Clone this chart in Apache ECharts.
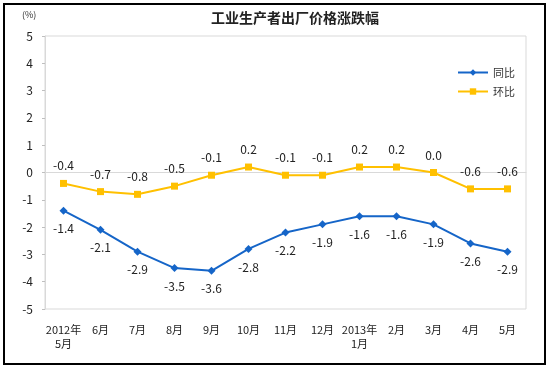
<!DOCTYPE html>
<html><head><meta charset="utf-8">
<script src="https://cdn.jsdelivr.net/npm/echarts@6/dist/echarts.min.js"></script>
<style>html,body{margin:0;padding:0;background:#fff}#c{width:550px;height:369px}</style>
</head><body><div id="c"></div>
<script>
const categories = ["2012年\n5月","6月","7月","8月","9月","10月","11月","12月","2013年\n1月","2月","3月","4月","5月"];
const yoy = [-1.4,-2.1,-2.9,-3.5,-3.6,-2.8,-2.2,-1.9,-1.6,-1.6,-1.9,-2.6,-2.9];
const mom = [-0.4,-0.7,-0.8,-0.5,-0.1,0.2,-0.1,-0.1,0.2,0.2,0.0,-0.6,-0.6];
const seriesNames = ["同比","环比"];
const font = '"Noto Sans CJK SC", "Liberation Sans", sans-serif';
const chart = echarts.init(document.getElementById('c'), null, {renderer:'canvas'});
const lbl = v => v.value.toFixed(1);
chart.setOption({
  animation:false,
  textStyle:{fontFamily:font},
  graphic:[
    {type:'rect', shape:{x:4,y:4,width:541,height:360}, style:{fill:null, stroke:'#000', lineWidth:2}, z:-1},
    {type:'text', left:22, top:10, style:{text:'(%)', font:'9px '+font, fill:'#333'}}
  ],
  title:{text:'工业生产者出厂价格涨跌幅', left:290, top:6, textAlign:'center',
    textStyle:{fontSize:14, fontWeight:'bold', color:'#222', fontFamily:font}},
  legend:{orient:'vertical', left:452, top:62, itemGap:8, itemWidth:30, itemHeight:8,
    textStyle:{fontSize:11, color:'#333', fontFamily:font},
    data:seriesNames},
  grid:{left:45, right:24, top:36, bottom:60, show:true, borderColor:'#d9d9d9', borderWidth:1},
  xAxis:{type:'category', data:categories, boundaryGap:true,
    axisLine:{lineStyle:{color:'#d9d9d9'}},
    axisTick:{inside:true, length:3, lineStyle:{color:'#bfbfbf'}},
    axisLabel:{fontSize:11, color:'#222', margin:14, interval:0, lineHeight:14, fontFamily:font}},
  yAxis:{type:'value', min:-5, max:5, interval:1,
    axisLine:{show:true, lineStyle:{color:'#d9d9d9'}},
    axisTick:{show:true, length:3, lineStyle:{color:'#bfbfbf'}},
    splitLine:{show:false},
    axisLabel:{fontSize:12, color:'#222', margin:12, fontFamily:font}},
  series:[
    {name:seriesNames[0], type:'line', data:yoy, symbol:'diamond', symbolSize:8,
      color:'#1565c8', lineStyle:{width:2, color:'#1565c8'}, itemStyle:{color:'#1565c8'},
      label:{show:true, position:'bottom', distance:8, fontSize:12, color:'#222', formatter:lbl}},
    {name:seriesNames[1], type:'line', data:mom, symbol:'rect', symbolSize:7,
      color:'#ffc000', lineStyle:{width:2, color:'#ffc000'}, itemStyle:{color:'#ffc000'},
      label:{show:true, position:'top', distance:8, fontSize:12, color:'#222', formatter:lbl}}
  ]
});
</script></body></html>
